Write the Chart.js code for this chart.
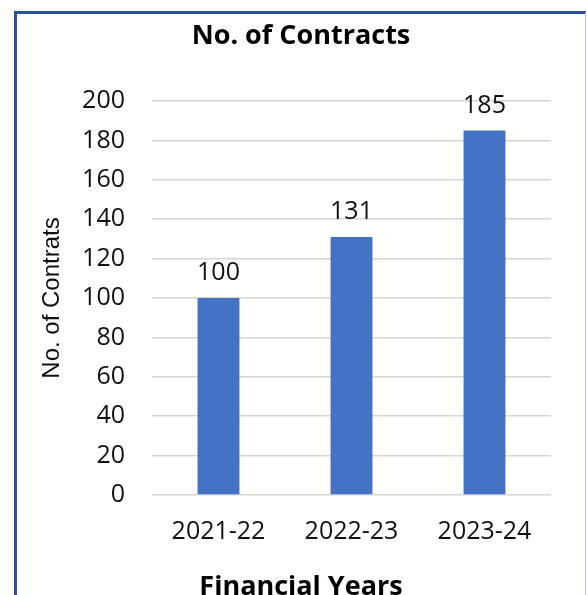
<!DOCTYPE html>
<html>
<head>
<meta charset="utf-8">
<script src="https://cdn.jsdelivr.net/npm/chart.js@4.4.1/dist/chart.umd.min.js"></script>
<style>
  html, body { margin: 0; padding: 0; background: #fff; overflow: hidden; }
  body { width: 587px; height: 595px; position: relative; }
  #frame {
    position: absolute; left: 14px; top: 11px; width: 568px; height: 620px;
    border-top: 3px solid #2c4f9c; border-left: 3px solid #2c4f9c;
    border-right: 1px solid #b9c5dd; background: #fffffd;
  }
  #wrap { position: absolute; left: 0; top: 0; width: 587px; height: 620px; }
</style>
</head>
<body>
<div id="frame"></div>
<div id="wrap"><canvas id="myChart" width="587" height="620"></canvas></div>
<script>
// data
const years = ["2021-22", "2022-23", "2023-24"];
const contracts = [100, 131, 185];
const yTicks = [0, 20, 40, 60, 80, 100, 120, 140, 160, 180, 200];

const textFont = "'Open Sans', sans-serif";

// value labels above each bar
const barLabels = {
  id: "barLabels",
  afterDatasetsDraw(chart) {
    const ctx = chart.ctx;
    const meta = chart.getDatasetMeta(0);
    ctx.save();
    ctx.font = "500 25px " + textFont;
    ctx.fillStyle = "#111";
    ctx.textAlign = "center";
    ctx.textBaseline = "alphabetic";
    meta.data.forEach((bar, i) => {
      ctx.fillText(String(contracts[i]), bar.x, bar.y - 18);
    });
    ctx.restore();
  },
};

const data = {
  labels: years,
  datasets: [
    {
      label: "No. of Contracts",
      data: contracts,
      backgroundColor: "#4472c4",
      borderWidth: 0,
      barPercentage: 0.315,
      categoryPercentage: 1,
    },
  ],
};

const config = {
  type: "bar",
  data,
  options: {
    responsive: false,
    animation: false,
    layout: { padding: { left: 51, right: 36, top: 14, bottom: 0 } },
    plugins: {
      legend: { display: false },
      tooltip: { enabled: false },
      title: {
        display: true,
        text: "No. of Contracts",
        color: "#000",
        font: { family: textFont, size: 27, weight: "bold" },
        padding: { top: 6, bottom: 48.6 },
      },
      subtitle: {
        display: true,
        position: "bottom",
        text: "Financial Years",
        color: "#000",
        font: { family: textFont, size: 27, weight: "bold" },
        padding: { top: 16.5, bottom: 16.1 },
      },
    },
    scales: {
      x: {
        grid: { display: false, drawTicks: false },
        border: { display: false },
        ticks: {
          color: "#111",
          padding: 22,
          font: { family: textFont, size: 25, weight: "500" },
        },
        afterFit(scale) {
          scale.height = 60;
        },
      },
      y: {
        min: 0,
        max: 200,
        afterBuildTicks(scale) {
          scale.ticks = yTicks.map((v) => ({ value: v }));
        },
        grid: { color: "#d6d6d6", lineWidth: 1.5, drawTicks: false },
        border: { display: false },
        ticks: {
          color: "#111",
          padding: 27,
          font: { family: textFont, size: 25, weight: "500" },
        },
        title: {
          display: true,
          text: "No. of Contrats",
          color: "#111",
          font: { family: "'Liberation Sans', Arial, sans-serif", size: 24 },
          padding: { top: -13, bottom: 0 },
        },
        afterFit(scale) {
          scale.width = 101;
        },
      },
    },
  },
  plugins: [barLabels],
};

const myChart = new Chart(document.getElementById("myChart"), config);
</script>
</body>
</html>
